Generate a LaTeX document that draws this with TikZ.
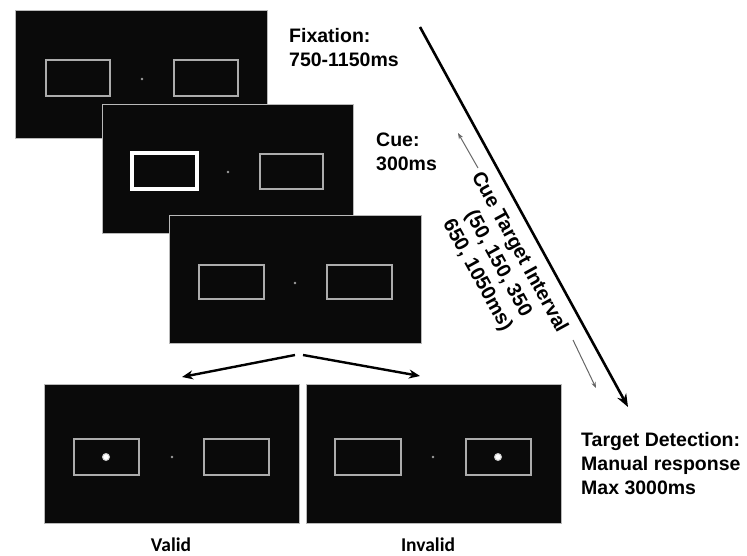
\documentclass[tikz,border=0pt]{standalone}
\usepackage{fontspec}
\setmainfont{Liberation Sans}
\newfontfamily\calib{Carlito}
\usetikzlibrary{arrows.meta}
\tikzset{
  screen/.style={draw=gray!55, line width=0.6pt, fill=black!96, anchor=north west, inner sep=0pt},
  placebox/.style={draw=gray!65, line width=1.2pt},
  cuebox/.style={draw=white, line width=3.5pt},
  fixdot/.style={fill=gray!75, draw=none},
  targetdot/.style={fill=white, draw=none},
  lbl/.style={font=\fontsize{19.5}{24}\selectfont\bfseries, align=left, anchor=north west, inner sep=0pt},
  cond/.style={font=\fontsize{19.5}{24}\selectfont\calib\bfseries, anchor=base, inner sep=0pt},
  branch/.style={line width=2.4pt, -{Stealth[length=11pt,width=9pt]}},
  timeline/.style={line width=2.6pt, -{Stealth[length=13pt,width=10pt]}},
  subarrow/.style={draw=black!60, line width=1pt, -{Stealth[length=6pt,width=4.5pt]}}
}
\begin{document}
\begin{tikzpicture}[x=1pt,y=-1pt]
\useasboundingbox (0,0) rectangle (747,556);
% screen 1: fixation
\node[screen, minimum width=252pt, minimum height=128pt] (s1) at (15,10) {};
\draw[placebox] (46,60) rectangle (110,96);
\draw[placebox] (174,60) rectangle (238,96);
\fill[fixdot] (142,79) circle (1.4);
% screen 2: cue
\node[screen, minimum width=251pt, minimum height=129pt] (s2) at (102,104) {};
\draw[cuebox] (132,153) rectangle (197,189);
\draw[placebox] (260,154) rectangle (323,189);
\fill[fixdot] (228,172) circle (1.4);
% screen 3: interval
\node[screen, minimum width=252pt, minimum height=128pt] (s3) at (169,215) {};
\draw[placebox] (199,265) rectangle (264,299);
\draw[placebox] (327,265) rectangle (392,299);
\fill[fixdot] (295,283) circle (1.4);
% valid screen
\node[screen, minimum width=255pt, minimum height=139pt] (sv) at (44,384) {};
\draw[placebox] (74,439) rectangle (139,475);
\draw[placebox] (204,439) rectangle (269,475);
\fill[fixdot] (172,457) circle (1.4);
\fill[white!60!gray] (106,457) circle (4);
\fill[targetdot] (106,457) circle (2.8);
% invalid screen
\node[screen, minimum width=255pt, minimum height=139pt] (si) at (306,384) {};
\draw[placebox] (335,439) rectangle (401,475);
\draw[placebox] (466,439) rectangle (531,475);
\fill[fixdot] (433,457) circle (1.4);
\fill[white!60!gray] (498,457) circle (4);
\fill[targetdot] (498,457) circle (2.8);
% labels
\node[lbl] (tfix) at (289,28) {Fixation:\\750-1150ms};
\node[lbl] (tcue) at (376,133) {Cue:\\300ms};
\node[lbl] (ttar) at (581,432) {Target Detection:\\Manual response\\Max 3000ms};
\node[cond] (tval) at (171,551) {Valid};
\node[cond] (tinv) at (428,551) {Invalid};
\node[font=\fontsize{20}{24}\selectfont\bfseries, align=center, rotate=-61.3, inner sep=0pt] (tcti) at (498,264) {Cue Target Interval\\(50, 150, 350\\650, 1050ms)};
% branch arrows
\coordinate (bl0) at (295,355);
\coordinate (bl1) at (182,377);
\coordinate (br0) at (303,355);
\coordinate (br1) at (420,376);
\draw[branch] (bl0) -- (bl1);
\draw[branch] (br0) -- (br1);
% timeline
\coordinate (t0) at (420,27);
\coordinate (t1) at (628,407);
\draw[timeline] (t0) -- (t1);
\coordinate (a0) at (478,168);
\coordinate (a1) at (458,133);
\coordinate (b0) at (573,340);
\coordinate (b1) at (596,388);
\draw[subarrow] (a0) -- (a1);
\draw[subarrow] (b0) -- (b1);
\end{tikzpicture}
\end{document}
